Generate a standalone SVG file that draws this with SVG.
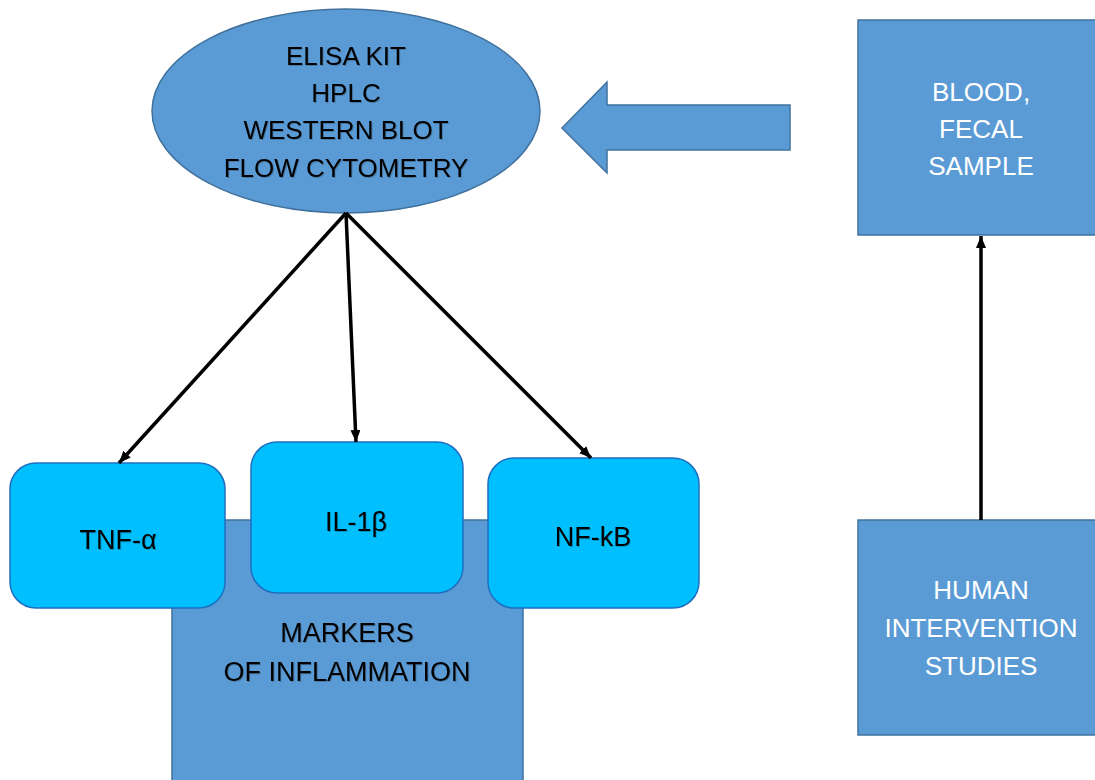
<svg xmlns="http://www.w3.org/2000/svg" width="1095" height="780" viewBox="0 0 1095 780">
  <style>
    .blue { fill: #5B9BD5; stroke: #41719C; stroke-width: 1.5; }
    .cyan { fill: #00BFFF; stroke: #1F6FC0; stroke-width: 1.5; }
    .dark { font-family: "Liberation Sans", Arial, sans-serif; font-size: 26px; fill: #000; text-anchor: middle; filter: url(#soft); }
    .big { font-size: 27px; }
    .light { font-family: "Liberation Sans", Arial, sans-serif; font-size: 26px; fill: #fff; text-anchor: middle; }
    .conn { stroke: #000; stroke-width: 3.5; fill: none; marker-end: url(#head); }
  </style>
  <defs>
    <marker id="head" viewBox="0 0 12 10" refX="12" refY="5" markerWidth="12" markerHeight="10" markerUnits="userSpaceOnUse" orient="auto">
      <path d="M0,0 L12,5 L0,10 Z" fill="#000"/>
    </marker>
    <!-- faint shadow under the dark labels -->
    <filter id="soft" x="-10%" y="-30%" width="120%" height="160%">
      <feDropShadow dx="1" dy="1" stdDeviation="0.7" flood-color="#000" flood-opacity="0.22"/>
    </filter>
  </defs>
  <rect width="1095" height="780" fill="#fff"/>

  <!-- markers of inflammation (background panel) -->
  <g id="markers">
    <rect class="blue" x="172" y="520" width="351" height="270"/>
    <text class="dark big" x="347" y="642">MARKERS</text>
    <text class="dark big" x="347" y="681">OF INFLAMMATION</text>
  </g>

  <!-- methods ellipse -->
  <g id="methods">
    <ellipse class="blue" cx="346" cy="111" rx="194" ry="102"/>
    <text class="dark" x="346" y="65">ELISA KIT</text>
    <text class="dark" x="346" y="102">HPLC</text>
    <text class="dark" x="346" y="139">WESTERN BLOT</text>
    <text class="dark" x="346" y="177">FLOW CYTOMETRY</text>
  </g>

  <!-- block arrow pointing to the methods -->
  <g id="block-arrow">
    <path class="blue" d="M790,105 L607,105 L607,82 L562,128 L607,173 L607,150 L790,150 Z"/>
  </g>

  <g id="sample">
    <rect class="blue" x="858" y="20" width="240" height="215"/>
    <text class="light" x="981" y="101">BLOOD,</text>
    <text class="light" x="981" y="138">FECAL</text>
    <text class="light" x="981" y="175">SAMPLE</text>
  </g>

  <g id="studies">
    <rect class="blue" x="858" y="520" width="240" height="215"/>
    <text class="light" x="981" y="599">HUMAN</text>
    <text class="light" x="981" y="637">INTERVENTION</text>
    <text class="light" x="981" y="675">STUDIES</text>
  </g>

  <g id="tnf">
    <rect class="cyan" x="10" y="463" width="215" height="145" rx="26"/>
    <text class="dark big" x="118" y="549">TNF-α</text>
  </g>
  <g id="il1b">
    <rect class="cyan" x="251" y="442" width="212" height="151" rx="26"/>
    <text class="dark big" x="356" y="531">IL-1β</text>
  </g>
  <g id="nfkb">
    <rect class="cyan" x="488" y="458" width="211" height="150" rx="26"/>
    <text class="dark big" x="593" y="546">NF-kB</text>
  </g>

  <g id="connectors">
    <line class="conn" x1="346" y1="213" x2="119" y2="463"/>
    <line class="conn" x1="346" y1="213" x2="356" y2="442"/>
    <line class="conn" x1="346" y1="213" x2="591" y2="458"/>
    <line class="conn" x1="981" y1="520" x2="981" y2="236"/>
  </g>
</svg>
